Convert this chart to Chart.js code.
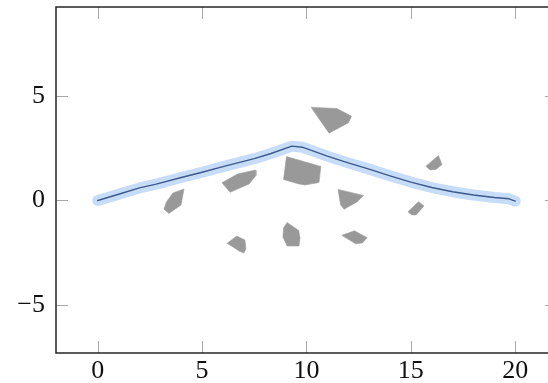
<!DOCTYPE html>
<html>
<head>
<meta charset="utf-8">
<script src="https://cdn.jsdelivr.net/npm/chart.js@4.4.1/dist/chart.umd.min.js"></script>
<style>
  html, body { margin: 0; padding: 0; background: #fff; overflow: hidden; }
</style>
</head>
<body>
<canvas id="chart" width="548" height="383"></canvas>
<script>
// tick labels
var xTicks = [0, 5, 10, 15, 20];
var yTicks = [-5, 0, 5];

// the curve
var curveX = [0, 1, 2, 2.8, 4, 5, 6, 7.5, 8.3, 9.3, 9.8, 11, 12, 13, 14, 15, 16, 17, 18, 19, 19.7, 20];
var curveY = [0, 0.3, 0.6, 0.78, 1.1, 1.35, 1.62, 2.0, 2.25, 2.6, 2.55, 2.12, 1.8, 1.5, 1.18, 0.88, 0.62, 0.42, 0.26, 0.14, 0.08, -0.03];

// grey shards, [x, y] corners
var shardA = [[4.13, 0.55], [3.99, -0.22], [3.41, -0.62], [3.17, -0.41], [3.29, -0.07], [3.6, 0.36]];
var shardB = [[5.95, 0.85], [6.7, 1.27], [7.56, 1.46], [7.58, 1.2], [7.25, 0.79], [6.34, 0.39]];
var shardC = [[6.2, -2.05], [6.66, -1.7], [7.05, -1.89], [7.1, -2.32], [7.0, -2.51], [6.81, -2.44]];
var shardD = [[10.22, 4.46], [11.46, 4.4], [12.16, 4.03], [12.01, 3.72], [11.08, 3.22]];
var shardE = [[9.04, 2.1], [10.69, 1.63], [10.6, 0.86], [9.93, 0.74], [9.64, 0.79], [8.9, 1.0]];
var shardF = [[11.51, 0.53], [12.73, 0.24], [12.42, -0.07], [11.8, -0.42], [11.63, -0.2]];
var shardG = [[9.07, -1.05], [9.63, -1.44], [9.69, -1.79], [9.64, -2.18], [9.07, -2.18], [8.87, -1.75], [8.9, -1.32]];
var shardH = [[11.69, -1.67], [12.3, -1.45], [12.9, -1.78], [12.68, -2.03], [12.35, -2.07]];
var shardI = [[14.86, -0.54], [15.37, -0.06], [15.63, -0.26], [15.25, -0.69], [15.05, -0.69]];
var shardJ = [[15.72, 1.64], [16.32, 2.15], [16.49, 1.72], [16.2, 1.48], [15.92, 1.46]];
var shards = [shardA, shardB, shardC, shardD, shardE, shardF, shardG, shardH, shardI, shardJ];

var xEnd = 22; // right side of the axis box, just past the picture edge

var curvePts = curveX.map(function (x, i) { return {x: x, y: curveY[i]}; });

var datasets = shards.map(function (s) {
  var pts = s.map(function (p) { return {x: p[0], y: p[1]}; });
  pts.push(pts[0]);
  return {
    data: pts, fill: 'shape', backgroundColor: '#999999', borderColor: '#a0a0a0',
    borderWidth: 0.6, pointRadius: 0, tension: 0, order: 3
  };
});
// halo under the thin line (lower order is drawn on top)
datasets.push({
  data: curvePts, borderColor: '#c6dcf8', borderWidth: 11, borderCapStyle: 'round',
  borderJoinStyle: 'round', pointRadius: 0, fill: false, tension: 0, order: 2
});
datasets.push({
  data: curvePts, borderColor: '#3d5a8a', borderWidth: 1.4, borderCapStyle: 'round',
  borderJoinStyle: 'round', pointRadius: 0, fill: false, tension: 0, order: 1
});

// frame and inward ticks like pgfplots
var frame = {
  id: 'frame',
  afterDraw: function (chart) {
    var c = chart.ctx, a = chart.chartArea, sx = chart.scales.x, sy = chart.scales.y;
    var right = sx.getPixelForValue(xEnd);
    c.save();
    c.strokeStyle = '#a8a8a8';
    c.lineWidth = 1;
    xTicks.forEach(function (v) {
      var px = Math.round(sx.getPixelForValue(v)) + 0.5;
      c.beginPath();
      c.moveTo(px, a.bottom); c.lineTo(px, a.bottom - 12);
      c.moveTo(px, a.top); c.lineTo(px, a.top + 12);
      c.stroke();
    });
    yTicks.forEach(function (v) {
      var py = Math.round(sy.getPixelForValue(v)) + 0.5;
      c.beginPath();
      c.moveTo(a.left, py); c.lineTo(a.left + 12, py);
      c.moveTo(right, py); c.lineTo(right - 12, py);
      c.stroke();
    });
    c.strokeStyle = '#333';
    c.lineWidth = 1.6;
    c.strokeRect(a.left, a.top, right - a.left, a.bottom - a.top);
    c.restore();
  }
};

function fmt(v) { return v < 0 ? '\u2212' + Math.abs(v) : String(v); }
function noPad(s) { s.paddingTop = 0; s.paddingBottom = 0; s.paddingLeft = 0; s.paddingRight = 0; }

new Chart(document.getElementById('chart'), {
  type: 'line',
  data: { datasets: datasets },
  options: {
    responsive: false,
    animation: false,
    layout: { padding: { top: 7, right: 0, left: 0, bottom: 0 } },
    plugins: { legend: { display: false }, tooltip: { enabled: false } },
    scales: {
      x: {
        type: 'linear', min: -2, max: 21.57,
        grid: { display: false, drawTicks: false },
        border: { display: false },
        afterBuildTicks: function (s) { s.ticks = xTicks.map(function (v) { return {value: v}; }); },
        afterFit: function (s) { s.height = 30; noPad(s); },
        ticks: { padding: 3, maxRotation: 0, color: '#111', font: { family: 'Liberation Serif', size: 26 }, callback: fmt }
      },
      y: {
        type: 'linear', min: -7.3, max: 9.26,
        grid: { display: false, drawTicks: false },
        border: { display: false },
        afterBuildTicks: function (s) { s.ticks = yTicks.map(function (v) { return {value: v}; }); },
        afterFit: function (s) { s.width = 56; noPad(s); },
        ticks: { padding: 11, color: '#111', font: { family: 'Liberation Serif', size: 26 }, callback: fmt }
      }
    }
  },
  plugins: [frame]
});
</script>
</body>
</html>
